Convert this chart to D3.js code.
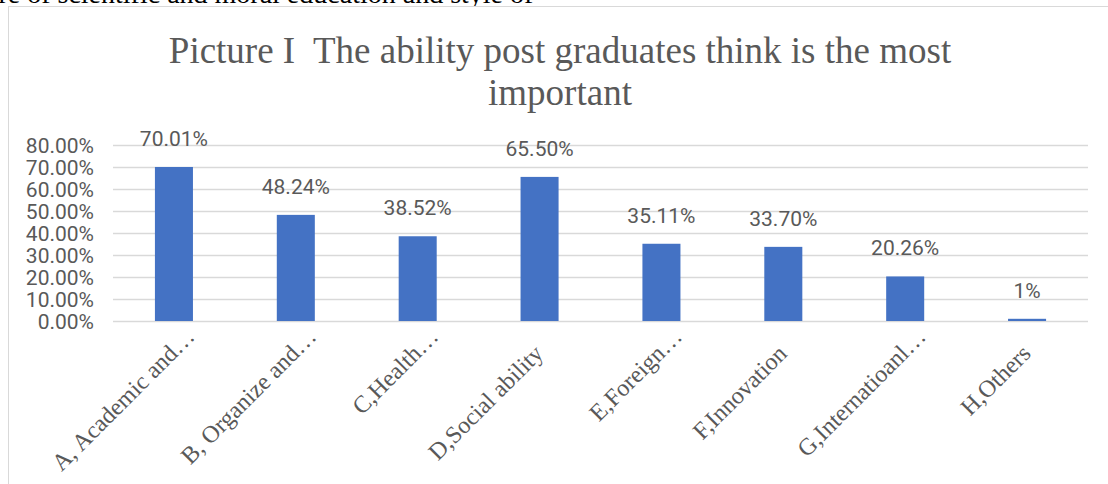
<!DOCTYPE html>
<html>
<head>
<meta charset="utf-8">
<script src="https://cdn.jsdelivr.net/npm/d3@7"></script>
<style>
  body { margin: 0; background: #fff; }
  svg { display: block; }
</style>
</head>
<body>
<svg id="chart" width="1108" height="484"></svg>
<script>
// Chart data
const categories = ["A, Academic and\u2026", "B, Organize and\u2026", "C,Health\u2026", "D,Social ability",
    "E,Foreign\u2026", "F,Innovation", "G,Internatioanl\u2026", "H,Others"];
const values = [0.7001, 0.4824, 0.3852, 0.6550, 0.3511, 0.3370, 0.2026, 0.01];
const valueLabels = ["70.01%", "48.24%", "38.52%", "65.50%", "35.11%", "33.70%", "20.26%", "1%"];
const yTicks = [0, 0.1, 0.2, 0.3, 0.4, 0.5, 0.6, 0.7, 0.8];
const titleLines = ["Picture I  The ability post graduates think is the most", "important"];
const pageText = "are of scientific and moral education and style of";

const svg = d3.select("#chart");
const grey = "#595959";
const numFont = "Roboto, 'Liberation Sans', sans-serif";
const serif = "'Liberation Serif', 'Times New Roman', serif";

// bit of the surrounding document text, cut by the top edge
svg.append("text")
    .attr("x", -14).attr("y", 3)
    .style("font-family", serif).style("font-size", "28px")
    .attr("fill", "#000")
    .text(pageText);

// chart frame
svg.append("rect")
    .attr("x", 8.5).attr("y", 6.5)
    .attr("width", 1200).attr("height", 600)
    .attr("fill", "#fff")
    .attr("stroke", "#d9d9d9");

// scales
let x = d3.scaleBand()
    .domain(categories)
    .range([113, 1088])
    .paddingInner(0.688)
    .paddingOuter(0.344);

let y = d3.scaleLinear()
    .domain([0, 0.8])
    .range([321, 145]);

// gridlines + y labels
let yAxis = d3.axisLeft(y)
    .tickValues(yTicks)
    .tickSize(-(1088 - 113))
    .tickPadding(19)
    .tickFormat(d3.format(".2%"));

let gy = svg.append("g")
    .attr("transform", "translate(113,0)")
    .call(yAxis);
gy.select(".domain").remove();
gy.selectAll(".tick line").attr("stroke", "#d9d9d9").attr("stroke-width", 1.3);
gy.selectAll(".tick text")
    .attr("fill", grey)
    .style("font-family", numFont)
    .style("font-size", "21px")
    .attr("dy", "0.36em");

// bars
svg.append("g")
    .selectAll("rect")
    .data(values)
    .join("rect")
    .attr("x", (d, i) => x(categories[i]))
    .attr("y", d => y(d))
    .attr("width", x.bandwidth())
    .attr("height", d => y(0) - y(d))
    .attr("fill", "#4472c4");

// value labels
svg.append("g")
    .selectAll("text")
    .data(values)
    .join("text")
    .attr("x", (d, i) => x(categories[i]) + x.bandwidth() / 2)
    .attr("y", d => y(d) - 21)
    .attr("text-anchor", "middle")
    .attr("fill", grey)
    .style("font-family", numFont)
    .style("font-size", "21px")
    .text((d, i) => valueLabels[i]);

// x labels, rotated; a trailing ellipsis hangs past the anchor like in Excel
let xAxis = d3.axisBottom(x).tickSize(0).tickPadding(0);
let gx = svg.append("g")
    .attr("transform", "translate(0,321)")
    .call(xAxis);
gx.select(".domain").remove();
gx.selectAll(".tick text")
    .attr("fill", grey)
    .style("font-family", serif)
    .style("font-size", "24px")
    .attr("text-anchor", "end")
    .attr("dy", null)
    .attr("transform", function(d) {
        let s = this.textContent;
        let hang = s.endsWith("\u2026") ? this.getSubStringLength(s.length - 1, 1) : 0;
        return "translate(5,34) rotate(-45) translate(" + hang + ",0)";
    });

// title
svg.append("g")
    .selectAll("text")
    .data(titleLines)
    .join("text")
    .attr("x", 560)
    .attr("y", (d, i) => 63 + i * 42)
    .attr("text-anchor", "middle")
    .attr("fill", grey)
    .style("font-family", serif)
    .style("font-size", "37px")
    .style("white-space", "pre")
    .text(d => d);
</script>
</body>
</html>
